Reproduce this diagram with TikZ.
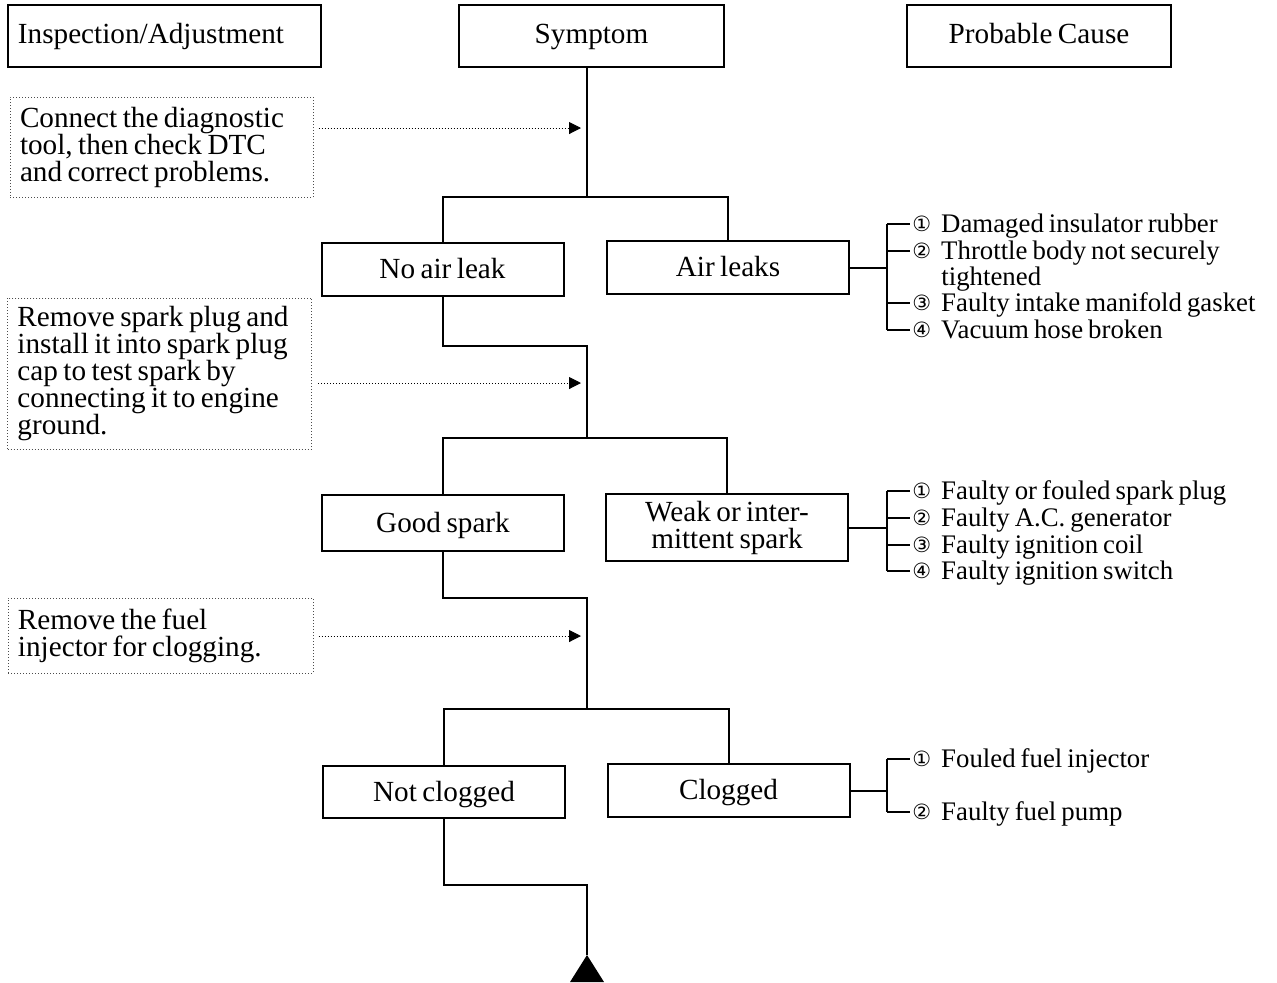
\documentclass[tikz,border=0pt]{standalone}
\usepackage{fontspec}
\setmainfont[WordSpace=0.75]{Liberation Serif}
\newfontfamily\circfont{DejaVu Sans}
\usetikzlibrary{positioning,arrows.meta,calc}
\newcommand{\cn}[1]{{\circfont\fontsize{10.5}{10}\selectfont\raisebox{.3pt}{#1}}\hspace{5pt}}
\newcommand{\txt}{\fontsize{14.6}{13.5}\selectfont}
\newcommand{\ctxt}{\fontsize{13.4}{13.5}\selectfont}
\tikzset{
  hdr/.style  ={draw,line width=1pt,minimum height=31pt,inner sep=0pt,font=\txt,
                text height=10pt,text depth=3pt},
  symb/.style ={draw,line width=1pt,minimum width=121pt,minimum height=26.5pt,
                inner sep=0pt,align=center,font=\txt},
  one/.style  ={text height=10pt,text depth=1pt},
  chk/.style  ={draw=black!70,densely dotted,line width=.5pt,align=flush left,
                inner xsep=5pt,inner ysep=0pt,font=\txt},
  cause/.style={anchor=west,inner sep=1pt,font=\ctxt,text height=9pt,text depth=.5pt},
  ln/.style   ={line width=1pt},
  dotar/.style={densely dotted,line width=.5pt,-{Triangle[length=6pt,width=6pt]}},
}
\begin{document}
\begin{tikzpicture}[x=0.5pt,y=-0.5pt]
\useasboundingbox (0,0) rectangle (1277,982);

% headers
\node[hdr,text width=146.5pt,inner xsep=5pt,align=flush left] (hins) at (164.5,36) {Inspection/Adjustment};
\node[hdr,minimum width=132.5pt] (hsym) at (591.5,36) {Symptom};
\node[hdr,minimum width=132pt] (hcau) at (1039,36) {Probable Cause};

% inspection steps
\node[chk,text width=141.5pt,minimum height=50pt] (ins1) at (161.5,147)
  {Connect the diagnostic\\tool, then check DTC\\and correct problems.};
\node[chk,text width=142pt,minimum height=75.5pt] (ins2) at (159.5,373.5)
  {Remove spark plug and\\install it into spark plug\\cap to test spark by\\connecting it to engine\\ground.};
\node[chk,text width=142.5pt,minimum height=37.5pt] (ins3) at (160.5,635.5)
  {Remove the fuel\\injector for clogging.};

% symptoms
\node[symb,one] (noleak) at (442.5,269.5) {No air leak};
\node[symb,one] (leak)   at (728,267.5)   {Air leaks};
\node[symb,one,minimum height=28pt] (spark) at (443,523) {Good spark};
\node[symb,minimum height=33.5pt] (weak) at (727,527.5) {Weak or inter-\\mittent spark};
\node[symb,one,minimum height=26pt] (noclog) at (444,792) {Not clogged};
\node[symb,one] (clog)   at (728.5,790.5) {Clogged};

% main line
\coordinate (a1) at (581,128);
\coordinate (j1) at (587,197);
\coordinate (k2) at (587,346);
\coordinate (a2) at (581,383);
\coordinate (j2) at (587,438);
\coordinate (k3) at (587,598);
\coordinate (a3) at (581,636);
\coordinate (j3) at (587,709);
\coordinate (k4) at (587,885);
\coordinate (endm) at (587,955);

\draw[ln] (j1 |- hsym.south) -- (j1);
\draw[ln] (noleak.north) |- (j1) -| (leak.north);
\draw[ln] (noleak.south) |- (k2) -- (j2);
\draw[ln] (spark.north) |- (j2) -| (weak.north);
\draw[ln] (spark.south) |- (k3) -- (j3);
\draw[ln] (noclog.north) |- (j3) -| (clog.north);
\draw[ln] (noclog.south) |- (k4) -- (endm);
\fill (endm) -- ++(-17,27) -- ++(34,0) -- cycle;

\draw[dotar] ($(ins1.east |- a1)+(5,0)$) -- (a1);
\draw[dotar] ($(ins2.east |- a2)+(6,0)$) -- (a2);
\draw[dotar] ($(ins3.east |- a3)+(5,0)$) -- (a3);

% causes: air leaks
\node[cause] (c11) at (910,224) {\cn{①}Damaged insulator rubber};
\node[cause] (c12) at (910,251) {\cn{②}Throttle body not securely};
\node[cause] (c12b) at (939,277) {tightened};
\node[cause] (c13) at (910,303) {\cn{③}Faulty intake manifold gasket};
\node[cause] (c14) at (910,330) {\cn{④}Vacuum hose broken};
\coordinate (b1) at (887,268);
\draw[ln] (leak.east) -- (leak.east -| b1);
\draw[ln] (b1 |- c11) -- (b1 |- c14);
\foreach \c in {c11,c12,c13,c14} \draw[ln] (b1 |- \c) -- (\c.west);

% causes: weak spark
\node[cause] (c21) at (910,491) {\cn{①}Faulty or fouled spark plug};
\node[cause] (c22) at (910,518) {\cn{②}Faulty A.C. generator};
\node[cause] (c23) at (910,545) {\cn{③}Faulty ignition coil};
\node[cause] (c24) at (910,571) {\cn{④}Faulty ignition switch};
\coordinate (b2) at (887,528);
\draw[ln] (weak.east) -- (weak.east -| b2);
\draw[ln] (b2 |- c21) -- (b2 |- c24);
\foreach \c in {c21,c22,c23,c24} \draw[ln] (b2 |- \c) -- (\c.west);

% causes: clogged
\node[cause] (c31) at (910,759) {\cn{①}Fouled fuel injector};
\node[cause] (c32) at (910,812) {\cn{②}Faulty fuel pump};
\coordinate (b3) at (887,786);
\draw[ln] (clog.east) -- (clog.east -| b3);
\draw[ln] (b3 |- c31) -- (b3 |- c32);
\foreach \c in {c31,c32} \draw[ln] (b3 |- \c) -- (\c.west);
\end{tikzpicture}
\end{document}
